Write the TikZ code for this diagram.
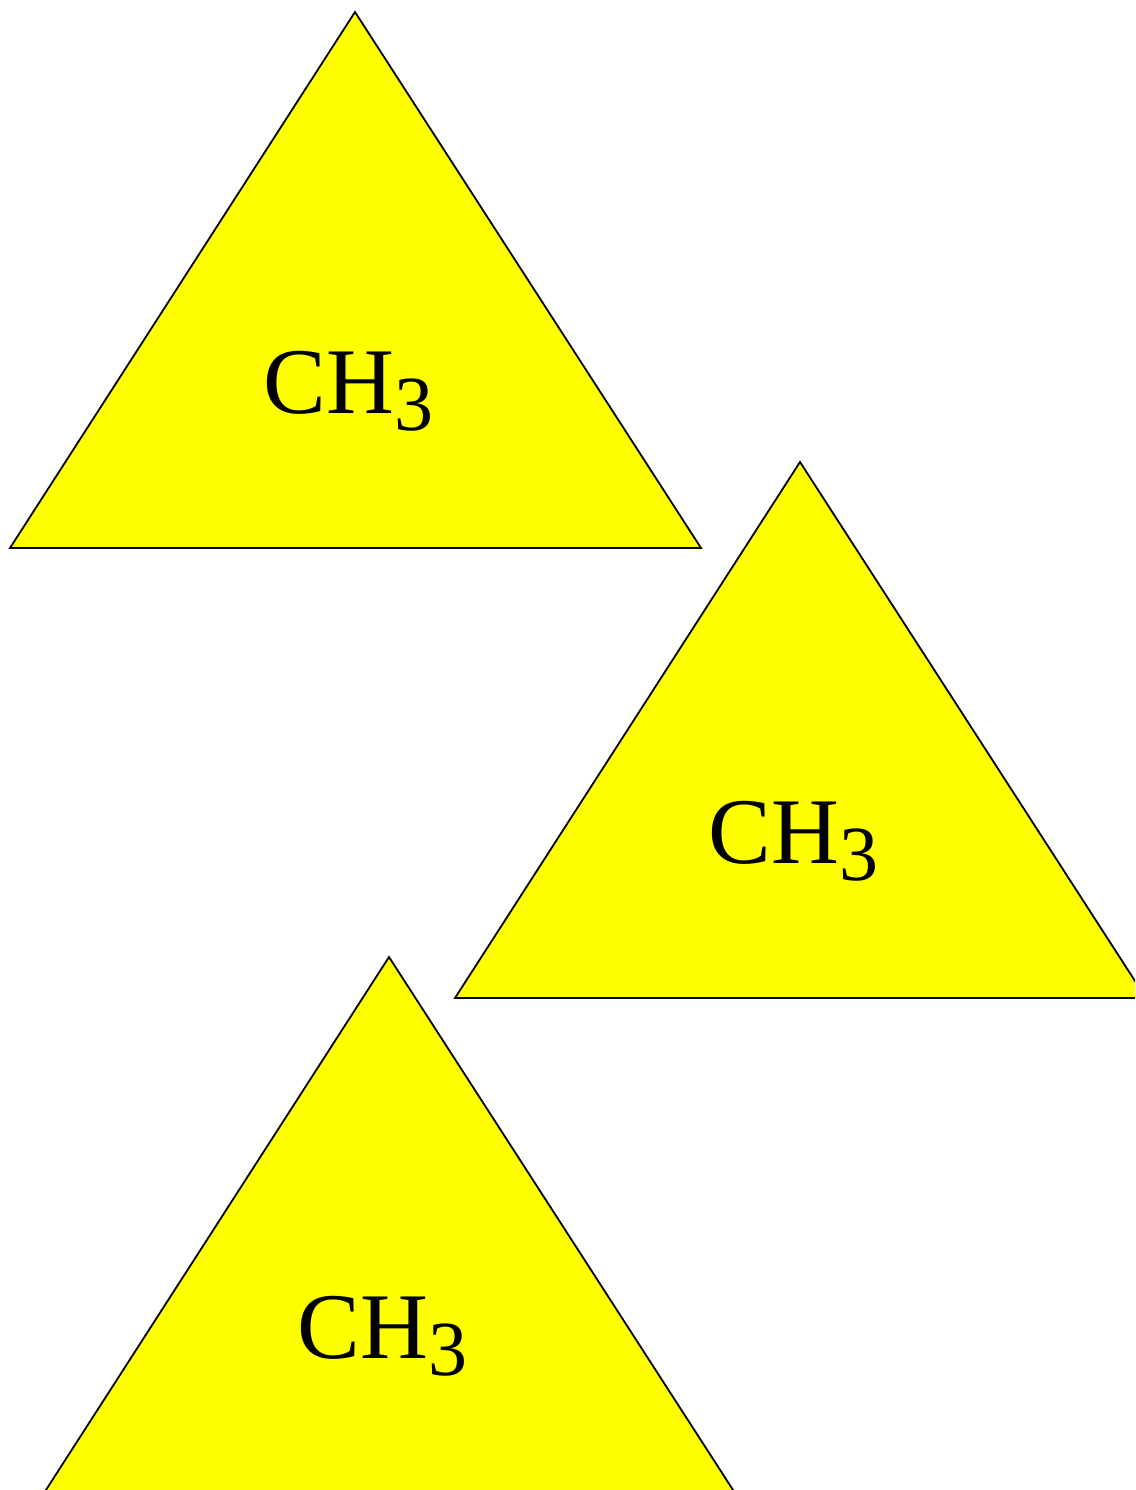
\documentclass[tikz,border=0pt]{standalone}
\usepackage{fontspec}
\setmainfont{Liberation Serif}
\definecolor{triyellow}{RGB}{255,255,0}
\begin{document}
\begin{tikzpicture}[x=1pt,y=-1pt,
  tri/.style={fill=triyellow,draw=black,line width=1.8pt,line join=miter},
  lbl/.style={anchor=base,inner sep=0pt,font=\fontsize{94}{110}\selectfont}]
\useasboundingbox (0,0) rectangle (1135,1490);
\begin{scope}
\clip (0,0) rectangle (1135,1490);
\draw[tri] (355,12) -- (10,548) -- (701,548) -- cycle;
\draw[tri] (800,462) -- (455,998) -- (1146,998) -- cycle;
\draw[tri] (389,957) -- (44,1493) -- (735,1493) -- cycle;
\node[lbl] (t1) at (348.5,413) {CH\raisebox{-17pt}{\fontsize{78}{80}\selectfont 3}};
\node[lbl] (t2) at (793.5,863) {CH\raisebox{-17pt}{\fontsize{78}{80}\selectfont 3}};
\node[lbl] (t3) at (382.5,1358) {CH\raisebox{-17pt}{\fontsize{78}{80}\selectfont 3}};
\end{scope}
\end{tikzpicture}
\end{document}
